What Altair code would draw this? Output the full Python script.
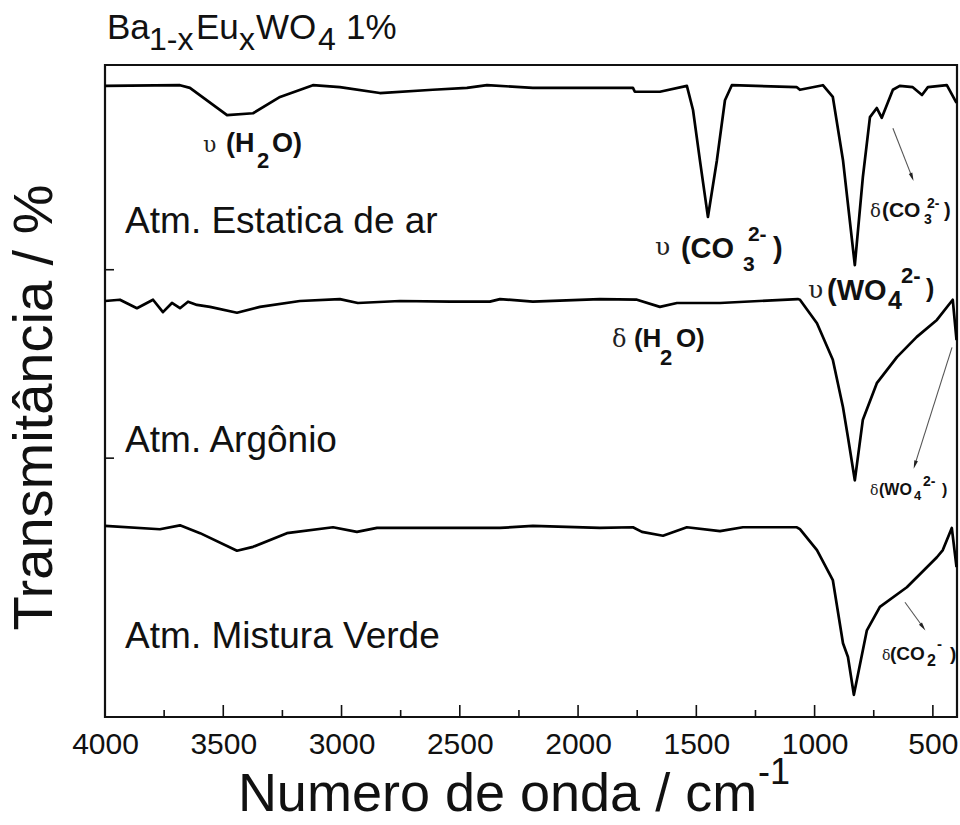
import altair as alt
import pandas as pd

# ---- spectra (wavenumber cm-1, transmittance, arbitrary offset %) ----
ar_w = [4000, 3683, 3641, 3484, 3374, 3260, 3121, 3007, 2838, 2614, 2470, 2385, 2191, 1908,
        1768, 1760, 1654, 1540, 1514, 1485, 1451, 1413, 1379, 1350, 1075, 1062, 965, 923,
        880, 830, 796, 766, 737, 716, 669, 640, 585, 546, 521, 441, 400]
ar_t = [96.8, 96.9, 96.5, 92.3, 92.6, 95.1, 96.9, 96.6, 95.7, 96.2, 96.5, 96.9, 96.5, 96.5,
        96.5, 95.9, 95.9, 96.8, 93.1, 85.4, 76.7, 85.4, 94.6, 96.9, 96.6, 96.2, 96.9, 95.1,
        85.4, 69.3, 82.8, 92.0, 93.4, 91.9, 96.2, 96.8, 96.6, 95.4, 96.6, 96.9, 94.2]

argon_w = [4000, 3937, 3865, 3797, 3755, 3717, 3683, 3649, 3611, 3556, 3442, 3345, 3176, 3007,
           2931, 2753, 2542, 2373, 2330, 2191, 1908, 1751, 1654, 1582, 1400, 1071, 1062, 990,
           923, 880, 859, 830, 796, 737, 652, 568, 483, 416, 400]
argon_t = [63.8, 64.0, 62.7, 64.0, 62.1, 63.5, 62.7, 63.7, 63.2, 62.9, 62.0, 62.9, 63.8, 64.1,
           63.5, 63.8, 63.7, 63.7, 64.1, 63.7, 64.1, 64.0, 62.9, 63.5, 63.5, 64.1, 64.0, 60.4,
           54.8, 47.5, 42.9, 36.3, 45.6, 51.2, 55.2, 58.3, 60.9, 64.0, 57.8]

verde_w = [4000, 3768, 3683, 3598, 3442, 3374, 3231, 3036, 2935, 2850, 2330, 2191, 1908, 1768,
           1730, 1641, 1540, 1400, 1303, 1075, 1062, 990, 923, 880, 859, 834, 779, 724, 610,
           483, 458, 420, 400]
verde_t = [29.3, 28.8, 29.4, 28.2, 25.5, 26.1, 28.2, 29.1, 28.4, 29.0, 29.0, 29.3, 29.0, 29.1,
           28.4, 27.8, 29.1, 28.5, 29.1, 29.1, 28.8, 25.6, 21.0, 11.3, 9.2, 3.4, 13.3, 16.9, 19.9,
           24.5, 25.6, 29.0, 23.0]

# ---- axis ticks ----
major_ticks = [4000, 3500, 3000, 2500, 2000, 1500, 1000, 500]
minor_ticks = [3750, 3250, 2750, 2250, 1750, 1250, 750]
y_ticks = [68.6, 39.7]

# ---- sample labels ----
sample_text = ["Atm. Estatica de ar", "Atm. Argônio", "Atm. Mistura Verde"]
sample_w = [3915, 3915, 3915]
sample_t = [74.2, 40.6, 10.6]

# ---- band labels: anchor (left end, baseline) ----
band_w = [3586, 1675, 1028, 1857, 766, 766, 715]
band_t = [86.7, 70.4, 64.0, 56.7, 76.7, 34.0, 8.7]

# ---- arrows ----
arrow_w1 = [669, 419, 618]
arrow_t1 = [90.3, 56.7, 17.6]
arrow_w2 = [588, 576, 542]
arrow_t2 = [82.8, 38.7, 13.8]

# ---------------------------------------------------------------------------
W_DOM = [4000, 398]
PLOT_W, PLOT_H = 852, 652
PX_W = (W_DOM[0] - W_DOM[1]) / PLOT_W   # wavenumber per pixel
PX_T = 100 / PLOT_H                      # transmittance per pixel

# glyph layout of each band label: (text, dx px, dy px, font size, bold)
band_layout = [
    [("υ", 0, 0, 22, False), ("(H", 23, 0, 27, True), ("2", 54, 16, 22, True), ("O)", 69, 0, 27, True)],
    [("υ", 0, -3, 25, False), ("(CO", 26, 0, 29, True), ("3", 88, 13, 21, True),
     ("2-", 93, -17, 21, True), (")", 118, 0, 29, True)],
    [("υ", 0, -2, 25, False), ("(WO", 19, 0, 29, True), ("4", 80, 9, 25, True),
     ("2-", 93, -17, 22, True), (")", 118, -3, 25, True)],
    [("δ", 0, 0, 24, False), ("(H", 22, 0, 26, True), ("2", 48, 18, 22, True), ("O)", 64, 0, 26, True)],
    [("δ", 0, 0, 18, False), ("(CO", 12, 0, 21, True), ("3", 54, 7, 14, True),
     ("2-", 57, -9, 14, True), (")", 74, 0, 20, True)],
    [("δ", 0, 0, 14, False), ("(WO", 9, 0, 16, True), ("4", 44, 5, 13, True),
     ("2-", 53, -9, 14, True), (")", 72, 0, 16, True)],
    [("δ", 0, 0, 14, False), ("(CO", 8, 0, 19, True), ("2", 45, 6, 16, True),
     ("-", 55, -11, 15, True), (")", 68, 0, 19, True)],
]

rows = []
for (aw, at, segs) in zip(band_w, band_t, band_layout):
    for (txt, dx, dy, fs, bold) in segs:
        rows.append({"w": aw - dx * PX_W, "t": at - dy * PX_T, "txt": txt, "fs": fs,
                     "b": bold})
seg_df = pd.DataFrame(rows)

spec = pd.concat([
    pd.DataFrame({"w": ar_w, "t": ar_t, "s": "ar", "i": range(len(ar_w))}),
    pd.DataFrame({"w": argon_w, "t": argon_t, "s": "argon", "i": range(len(argon_w))}),
    pd.DataFrame({"w": verde_w, "t": verde_t, "s": "verde", "i": range(len(verde_w))}),
])

xs = alt.Scale(domain=W_DOM, nice=False, zero=False)
ys = alt.Scale(domain=[0, 100], nice=False, zero=False)

x_enc = alt.X("w:Q", scale=xs,
              axis=alt.Axis(values=major_ticks, format="d", tickSize=0, domain=False, grid=False,
                            labelFlush=False, labelFontSize=30, labelPadding=12, labelColor="#111",
                            title="Numero de onda / cm", titleFontSize=54, titleAlign="center",
                            titleX=392, titleFontWeight="normal", titlePadding=8,
                            titleColor="#111"))
y_enc = alt.Y("t:Q", scale=ys,
              axis=alt.Axis(labels=False, ticks=False, domain=False, grid=False,
                            title="Transmitância / %", titleFontSize=56, titleY=342,
                            titleFontWeight="normal", titlePadding=42, titleColor="#111"))

lines = alt.Chart(spec).mark_line(color="black", strokeWidth=2.7, strokeJoin="round").encode(
    x=x_enc, y=y_enc, detail="s:N", order="i:Q")

major = alt.Chart(pd.DataFrame({"w": major_ticks})).mark_rule(color="#111", strokeWidth=1.6).encode(
    x=alt.X("w:Q", scale=xs), y=alt.datum(0), y2=alt.datum(12 * PX_T))
minor = alt.Chart(pd.DataFrame({"w": minor_ticks})).mark_rule(color="#111", strokeWidth=1.6).encode(
    x=alt.X("w:Q", scale=xs), y=alt.datum(0), y2=alt.datum(7 * PX_T))
yt = alt.Chart(pd.DataFrame({"t": y_ticks})).mark_rule(color="#111", strokeWidth=1.6).encode(
    y=alt.Y("t:Q", scale=ys), x=alt.datum(W_DOM[0]), x2=alt.datum(W_DOM[0] - 9 * PX_W))

samples = alt.Chart(pd.DataFrame({"w": sample_w, "t": sample_t, "txt": sample_text})).mark_text(
    align="left", baseline="alphabetic", fontSize=37, color="#111").encode(
    x=alt.X("w:Q", scale=xs), y=alt.Y("t:Q", scale=ys), text="txt:N")

seg_reg = alt.Chart(seg_df[~seg_df["b"]]).mark_text(
    align="left", baseline="alphabetic", color="#222", font="DejaVu Serif").encode(
    x=alt.X("w:Q", scale=xs), y=alt.Y("t:Q", scale=ys), text="txt:N",
    size=alt.Size("fs:Q", scale=None, legend=None))
seg_bold = alt.Chart(seg_df[seg_df["b"]]).mark_text(
    align="left", baseline="alphabetic", color="#111", fontWeight="bold").encode(
    x=alt.X("w:Q", scale=xs), y=alt.Y("t:Q", scale=ys), text="txt:N",
    size=alt.Size("fs:Q", scale=None, legend=None))

arrows_df = pd.DataFrame({"w1": arrow_w1, "t1": arrow_t1, "w2": arrow_w2, "t2": arrow_t2})
arrow_lines = alt.Chart(arrows_df).mark_rule(color="#555", strokeWidth=1.1).encode(
    x=alt.X("w1:Q", scale=xs), y=alt.Y("t1:Q", scale=ys), x2="w2:Q", y2="t2:Q")

HEAD = "M0,-1L0.45,1L-0.45,1Z"
heads = []
for k, ang in enumerate([159, 197, 144]):
    heads.append(alt.Chart(arrows_df.iloc[[k]]).mark_point(
        shape=HEAD, filled=True, color="#222", size=70, angle=ang, opacity=1).encode(
        x=alt.X("w2:Q", scale=xs), y=alt.Y("t2:Q", scale=ys)))

# superscript of the x-axis title unit (cm^-1), pixel offsets from the plot's top-left
unit_sup = alt.Chart(pd.DataFrame({"txt": ["-1"]})).mark_text(
    align="left", baseline="alphabetic", fontSize=36, color="#111").encode(
    text="txt:N", x=alt.value(653), y=alt.value(719))

# title "Ba1-xEuxWO4 1%" with full-size subscripts (pixel offsets from the plot's top-left)
title_parts = [("Ba", 2, -26, 35), ("1-x", 44, -15, 32), ("Eu", 91, -26, 35), ("x", 134, -15, 32),
               ("WO", 151, -26, 35), ("4", 213, -15, 32), ("1%", 241, -26, 35)]
title_layers = [
    alt.Chart(pd.DataFrame({"txt": [t]})).mark_text(
        align="left", baseline="alphabetic", fontSize=fs, color="#111").encode(
        text="txt:N", x=alt.value(px), y=alt.value(py))
    for (t, px, py, fs) in title_parts
]

chart = alt.layer(lines, major, minor, yt, samples, seg_reg, seg_bold, arrow_lines, *heads,
                  unit_sup, *title_layers).properties(
    width=PLOT_W, height=PLOT_H,
    autosize=alt.AutoSizeParams(type="none"),
    padding={"left": 105, "top": 65, "right": 3, "bottom": 108},
).configure(font="Liberation Sans").configure_view(stroke="#111", strokeWidth=2.2)

chart.save("out.html", embed_options={"renderer": "svg", "actions": False})
